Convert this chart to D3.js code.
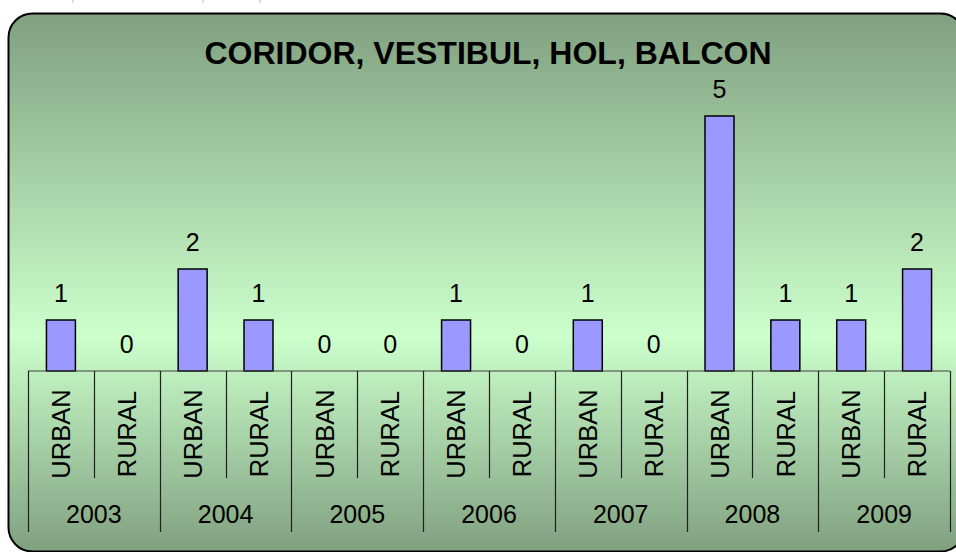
<!DOCTYPE html>
<html>
<head>
<meta charset="utf-8">
<script src="https://cdn.jsdelivr.net/npm/d3@7"></script>
<style>
  html, body { margin: 0; padding: 0; background: #ffffff; }
  svg { display: block; font-family: "Liberation Sans", Arial, sans-serif; }
</style>
</head>
<body>
<svg id="chart" width="956" height="552"></svg>
<script>
const title = "CORIDOR, VESTIBUL, HOL, BALCON";
const years = ["2003", "2004", "2005", "2006", "2007", "2008", "2009"];
const areas = ["URBAN", "RURAL"];
const values = [1, 0, 2, 1, 0, 0, 1, 0, 1, 0, 5, 1, 1, 2];

const cats = [];
years.forEach(y => areas.forEach(a => cats.push({ year: y, area: a })));
const data = cats.map((c, i) => ({ ...c, key: c.year + "-" + c.area, value: values[i] }));

const svg = d3.select("#chart");

// background gradient
const defs = svg.append("defs");
const grad = defs.append("linearGradient").attr("id", "bg").attr("x1", 0).attr("y1", 0).attr("x2", 0).attr("y2", 1);
grad.append("stop").attr("offset", "0%").attr("stop-color", "#80a080");
grad.append("stop").attr("offset", "60%").attr("stop-color", "#ccffcc");
grad.append("stop").attr("offset", "100%").attr("stop-color", "#80a080");

// small marks from page above
[73, 203, 260].forEach(x => {
  svg.append("line").attr("x1", x).attr("x2", x).attr("y1", 0).attr("y2", 3)
    .attr("stroke", "#bbbbbb").attr("stroke-width", 1);
});

svg.append("rect")
  .attr("x", 8.5).attr("y", 13.5).attr("width", 956).attr("height", 538)
  .attr("rx", 24).attr("ry", 24)
  .attr("fill", "url(#bg)").attr("stroke", "#000").attr("stroke-width", 2);

svg.append("text")
  .attr("x", 488).attr("y", 64)
  .attr("text-anchor", "middle")
  .attr("font-weight", "bold").attr("font-size", 32)
  .attr("fill", "#000")
  .text(title);

const x = d3.scaleBand().domain(data.map(d => d.key)).range([28, 950]).padding(0);
const y = d3.scaleLinear().domain([0, 5]).range([371, 116]);
const bw = x.bandwidth() * 0.44;

// bars
svg.append("g").selectAll("rect").data(data).join("rect")
  .attr("x", d => x(d.key) + (x.bandwidth() - bw) / 2)
  .attr("y", d => y(d.value))
  .attr("width", bw)
  .attr("height", d => y(0) - y(d.value))
  .attr("fill", "#9999ff")
  .attr("stroke", "#000").attr("stroke-width", 1.5);

// value labels
svg.append("g").selectAll("text").data(data).join("text")
  .attr("x", d => x(d.key) + x.bandwidth() / 2)
  .attr("y", d => y(d.value) - 18.5)
  .attr("text-anchor", "middle")
  .attr("font-size", 25)
  .attr("fill", "#000")
  .text(d => d.value);

// axis baseline
const axisY = y(0);
svg.append("line")
  .attr("x1", x.range()[0]).attr("x2", x.range()[1])
  .attr("y1", axisY).attr("y2", axisY)
  .attr("stroke", "#404040").attr("stroke-width", 1.2);

// dividers
const axisG = svg.append("g").attr("stroke", "#202020").attr("stroke-width", 1.2);
data.forEach((d) => {
  const xl = Math.round(x(d.key)) + 0.5;
  const isYearEdge = d.area === areas[0];
  axisG.append("line").attr("x1", xl).attr("x2", xl)
    .attr("y1", axisY).attr("y2", isYearEdge ? 532 : 478);
});
const xr = Math.round(x.range()[1]) + 0.5;
axisG.append("line").attr("x1", xr).attr("x2", xr).attr("y1", axisY).attr("y2", 532);

// sub-category labels (rotated)
svg.append("g").selectAll("text").data(data).join("text")
  .attr("transform", d => `translate(${x(d.key) + x.bandwidth() / 2},434) rotate(-90)`)
  .attr("text-anchor", "middle")
  .attr("dy", "0.36em")
  .attr("font-size", 25.5)
  .attr("fill", "#000")
  .text(d => d.area);

// year labels
svg.append("g").selectAll("text").data(years).join("text")
  .attr("x", yr => x(yr + "-" + areas[0]) + x.bandwidth())
  .attr("y", 523)
  .attr("text-anchor", "middle")
  .attr("font-size", 25)
  .attr("fill", "#000")
  .text(yr => yr);
</script>
</body>
</html>
